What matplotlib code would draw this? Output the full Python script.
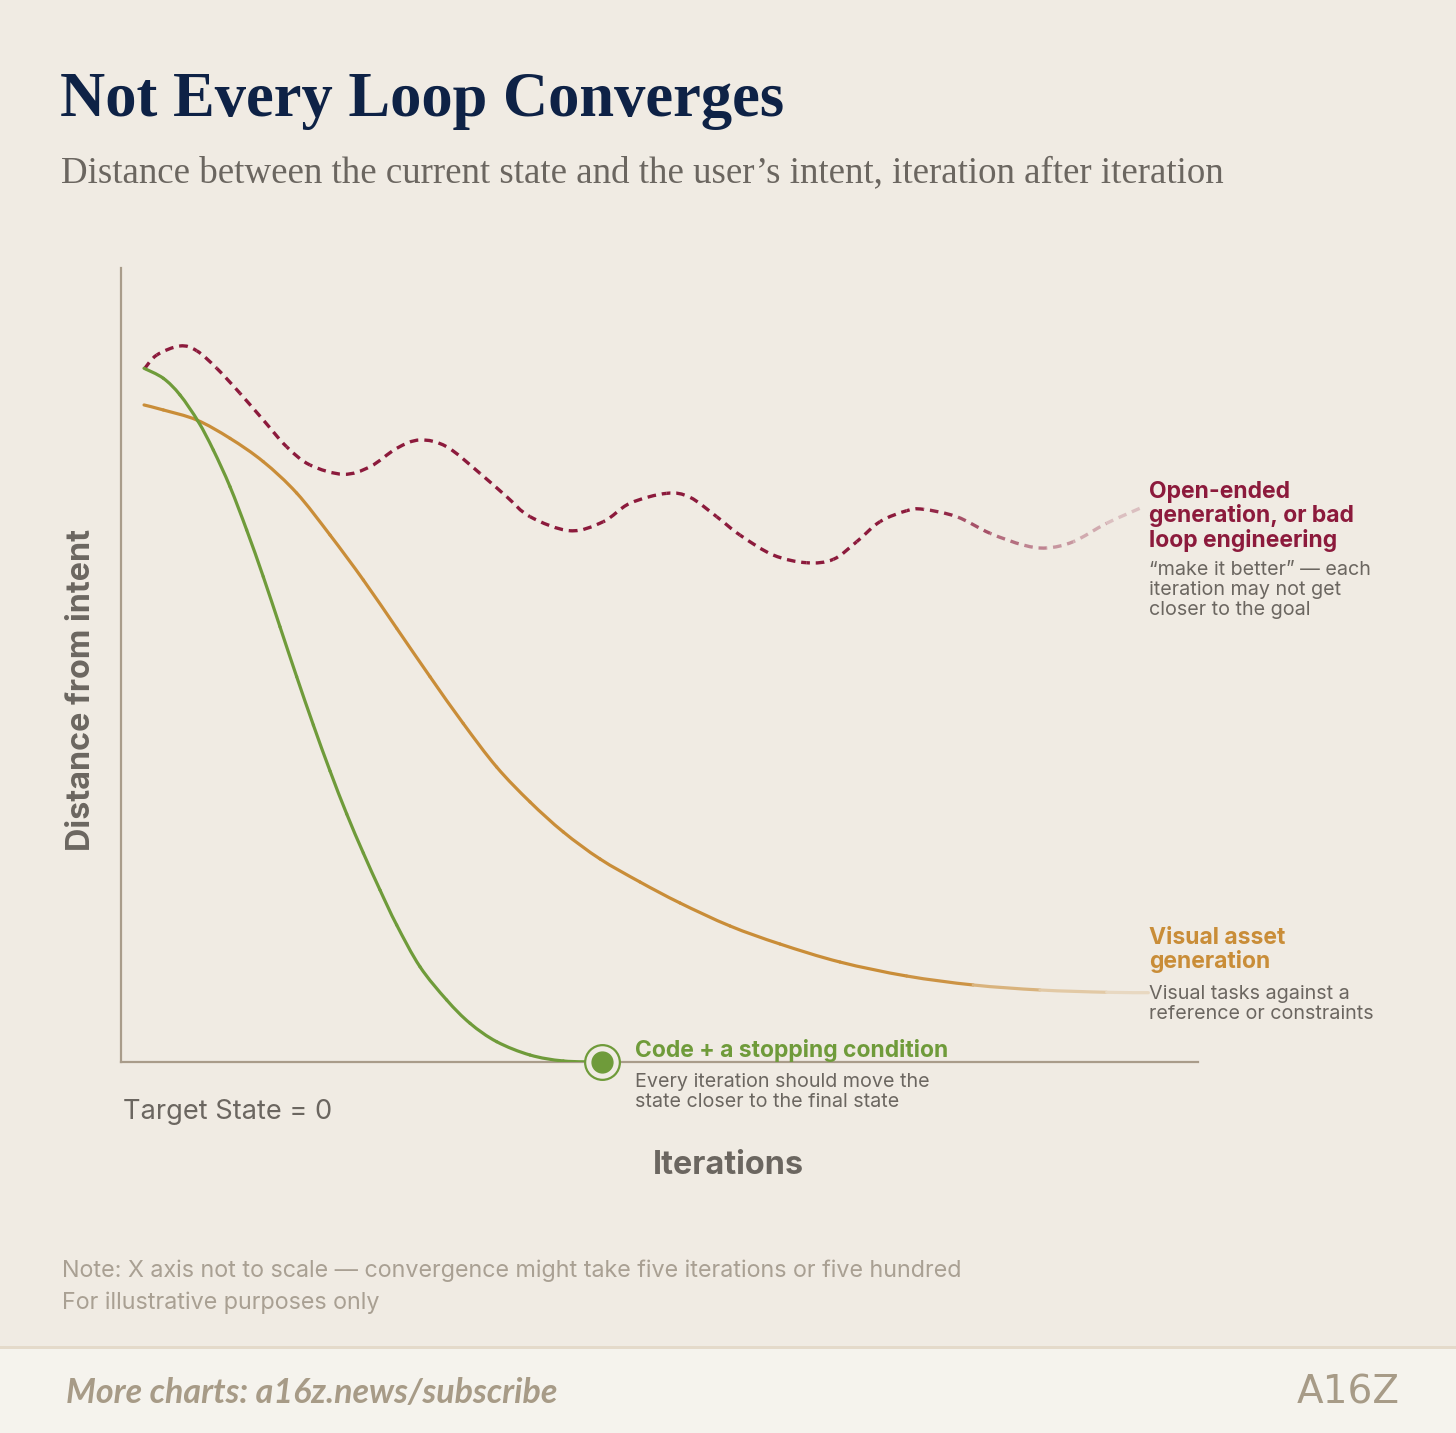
import numpy as np
import matplotlib.pyplot as plt
from matplotlib.colors import to_rgb
from matplotlib.patches import Rectangle, Arc, PathPatch
from matplotlib.path import Path

W, H = 1456, 1433

# curves (x = iterations, y = distance from intent, both 0..100)
green_x = [2.14, 3.93, 5.48, 7.18, 8.57, 10.12, 11.67, 13.21, 14.76, 16.31, 17.86, 19.41,
           20.96, 22.50, 24.05, 25.60, 27.76, 30.24, 32.41, 34.88, 37.98, 41.07, 44.63]
green_y = [87.37, 86.11, 84.01, 80.64, 77.08, 72.46, 67.00, 61.12, 54.82, 48.53, 42.44, 36.65,
           31.23, 26.32, 21.66, 17.25, 12.00, 7.81, 4.87, 2.56, 0.88, 0.13, 0.0]

orange_x = [2.14, 3.93, 7.03, 10.12, 13.21, 16.31, 19.41, 22.50, 25.60, 28.69, 31.78, 34.88,
            37.98, 41.07, 44.48, 48.19, 51.90, 56.55, 61.19, 66.76, 72.95, 79.13, 85.33,
            91.52, 95.39]
orange_y = [82.75, 82.12, 80.86, 78.55, 75.61, 71.66, 66.37, 60.71, 54.62, 48.53, 42.63, 37.15,
            32.75, 28.97, 25.57, 22.67, 20.03, 17.13, 14.86, 12.59, 10.83, 9.70, 9.07,
            8.78, 8.73]

red_x = [2.14, 3.32, 5.48, 7.03, 8.89, 11.05, 13.21, 15.38, 17.55, 20.64, 23.12, 25.60,
         27.76, 30.24, 33.33, 35.81, 37.98, 41.69, 44.78, 47.26, 50.67, 52.83, 55.31, 57.47,
         60.56, 63.66, 66.14, 68.31, 70.47, 72.95, 74.49, 77.59, 80.69, 83.78, 85.95, 88.42,
         91.52, 94.61]
red_y = [87.24, 89.04, 90.18, 89.58, 87.37, 84.22, 80.86, 77.49, 75.19, 74.02, 74.97, 77.29,
         78.34, 77.49, 74.14, 71.20, 68.68, 66.91, 68.05, 70.37, 71.62, 71.12, 68.68, 66.37,
         63.85, 62.88, 63.31, 65.53, 68.05, 69.43, 69.61, 68.68, 66.59, 65.11, 64.74, 65.53,
         67.85, 69.74]

BG = '#F0EBE3'
AXIS = '#A99C8A'
GREEN = '#6F9B3A'
ORANGE = '#C98D38'
RED = '#8C1A3C'
NAVY = '#0E2246'
GREY = '#6B6660'
LIGHT = '#A9A093'
FOOT = '#A79B87'

plt.rcParams['font.family'] = ['Inter', 'DejaVu Sans']
plt.rcParams['lines.scale_dashes'] = False

fig = plt.figure(figsize=(W / 100, H / 100), dpi=100)
fig.patch.set_facecolor(BG)


def fx(px):
    return px / W


def fy(py):
    return 1 - py / H


def fade(x):
    t = np.clip((np.asarray(x) - 75.5) / 19.5, 0, 1)
    return 0.85 * t ** 0.7


def mix(c, f):
    return tuple((1 - f) * np.array(to_rgb(c)) + f * np.array(to_rgb(BG)))


def smooth_pieces(x, y):
    # one cubic bezier per pair of read points, so the curve passes through every point
    p = np.column_stack([x, y])
    n = len(p)
    out = []
    for i in range(n - 1):
        p0, p1, p2, p3 = p[max(i - 1, 0)], p[i], p[i + 1], p[min(i + 2, n - 1)]
        c1 = p1 + (p2 - p0) / 6
        c2 = p2 - (p3 - p1) / 6
        out.append(Path([p1, c1, c2, p2], [Path.MOVETO, Path.CURVE4, Path.CURVE4, Path.CURVE4]))
    return out


ax = fig.add_axes([fx(121), fy(1062), (1198 - 121) / W, (1062 - 268) / H])
ax.set_facecolor(BG)
for s in ['top', 'right']:
    ax.spines[s].set_visible(False)
for s in ['left', 'bottom']:
    ax.spines[s].set_color(AXIS)
    ax.spines[s].set_linewidth(1.6)
ax.set_xticks([])
ax.set_yticks([])
ax.set_xlim(0, 100)
ax.set_ylim(0, 100)

# red dashed line: piece by piece so the tail fades while the dashes stay in step
rx, ry = np.array(red_x), np.array(red_y)
disp = ax.transData.transform(np.column_stack([rx, ry]))
seg = np.hypot(*np.diff(disp, axis=0).T) * 72 / 100
cum = np.concatenate([[0], np.cumsum(seg)])
on, off = 6.2, 4.2
for i, pth in enumerate(smooth_pieces(rx, ry)):
    c = mix(RED, fade((rx[i] + rx[i + 1]) / 2))
    ax.add_patch(PathPatch(pth, facecolor='none', edgecolor=c, lw=2.4, capstyle='butt',
                           linestyle=(cum[i] % (on + off), (on, off)), zorder=3))

# orange line with faded tail
for i, pth in enumerate(smooth_pieces(orange_x, orange_y)):
    c = mix(ORANGE, fade((orange_x[i] + orange_x[i + 1]) / 2))
    ax.add_patch(PathPatch(pth, facecolor='none', edgecolor=c, lw=2.3, capstyle='round', zorder=3))

for pth in smooth_pieces(green_x, green_y):
    ax.add_patch(PathPatch(pth, facecolor='none', edgecolor=GREEN, lw=2.3, capstyle='round', zorder=4))
ax.plot(green_x[-1], green_y[-1], 'o', ms=25, mfc=BG, mec=GREEN, mew=1.6, clip_on=False, zorder=6)
ax.plot(green_x[-1], green_y[-1], 'o', ms=15, mfc=GREEN, mec=GREEN, clip_on=False, zorder=7)

# titles
fig.text(fx(60), fy(116), 'Not Every Loop Converges', family=['Liberation Serif'], weight='bold',
         fontsize=45, color=NAVY, va='baseline')
fig.text(fx(61), fy(182), 'Distance between the current state and the user\u2019s intent, iteration after iteration',
         family=['Liberation Serif'], fontsize=26.6, color=GREY, va='baseline')

# axis labels
fig.text(fx(82), fy(690), 'Distance from intent', rotation=90, ha='center', va='center',
         fontsize=23.3, weight='bold', color=GREY)
fig.text(fx(728), fy(1166), 'Iterations', ha='center', va='center', fontsize=23.3, weight='bold', color=GREY)
fig.text(fx(123), fy(1112), 'Target State = 0', ha='left', va='center', fontsize=19.6, color=GREY)

# series labels
fig.text(fx(1149), fy(481), 'Open-ended\ngeneration, or bad\nloop engineering', ha='left', va='top',
         fontsize=16.5, weight='bold', color=RED, linespacing=1.08)
fig.text(fx(1149), fy(561), '\u201cmake it better\u201d \u2014 each\niteration may not get\ncloser to the goal',
         ha='left', va='top', fontsize=14.2, color=GREY, linespacing=1.13)

fig.text(fx(1149), fy(927), 'Visual asset\ngeneration', ha='left', va='top',
         fontsize=16.5, weight='bold', color=ORANGE, linespacing=1.08)
fig.text(fx(1149), fy(985), 'Visual tasks against a\nreference or constraints', ha='left', va='top',
         fontsize=14.2, color=GREY, linespacing=1.13)

fig.text(fx(635), fy(1050), 'Code + a stopping condition', ha='left', va='center',
         fontsize=16.5, weight='bold', color=GREEN)
fig.text(fx(635), fy(1073), 'Every iteration should move the\nstate closer to the final state', ha='left', va='top',
         fontsize=14.2, color=GREY, linespacing=1.13)

# note
fig.text(fx(62), fy(1271), 'Note: X axis not to scale \u2014 convergence might take five iterations or five hundred',
         ha='left', va='center', fontsize=16.8, color=LIGHT)
fig.text(fx(62), fy(1303), 'For illustrative purposes only', ha='left', va='center', fontsize=16.8, color=LIGHT)

# footer band with a faint scallop pattern
fig.patches.append(Rectangle((0, 0), 1, (H - 1346) / H, transform=fig.transFigure,
                             facecolor='#F5F3ED', edgecolor='none', zorder=0))
fax = fig.add_axes([0, 0, 1, (H - 1349) / H])
fax.set_xlim(0, W)
fax.set_ylim(H, 1349)
fax.axis('off')
for k in range(12):
    cx = 20 + 142 * k
    fax.add_patch(Arc((cx, 1425), 150, 150, theta1=0, theta2=180, color='#E6DED1', lw=1))
    fax.add_patch(Arc((cx + 71, 1470), 190, 190, theta1=0, theta2=180, color='#E9E2D7', lw=1))
fig.patches.append(Rectangle((0, (H - 1349) / H), 1, 3 / H, transform=fig.transFigure,
                             facecolor='#E4DACA', edgecolor='none', zorder=1))
fig.text(fx(66), fy(1393), 'More charts: a16z.news/subscribe', ha='left', va='center',
         family=['Lato', 'DejaVu Sans'], fontsize=24.5, weight='bold', style='italic', color=FOOT)
fig.text(fx(1400), fy(1392), 'A16Z', ha='right', va='center', family=['DejaVu Sans'],
         fontsize=28, color=FOOT)

fig.savefig('out.png', dpi=100, facecolor=BG)
